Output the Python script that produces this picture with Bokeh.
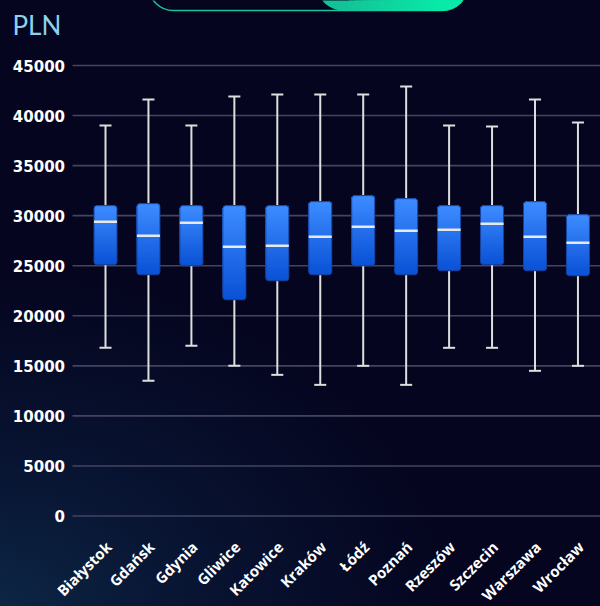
import math
from bokeh.plotting import figure
from bokeh.models import Range1d, GlobalInlineStyleSheet
from bokeh.core.properties import value
from bokeh.embed import file_html
from bokeh.resources import INLINE

# ---------------- data ----------------
cities = ["Białystok", "Gdańsk", "Gdynia", "Gliwice", "Katowice", "Kraków",
          "Łódź", "Poznań", "Rzeszów", "Szczecin", "Warszawa", "Wrocław"]
whisker_low = [16800, 13500, 17000, 15000, 14100, 13100, 15000, 13100, 16800, 16800, 14500, 15000]
q1 = [25100, 24100, 25000, 21600, 23500, 24100, 25000, 24100, 24500, 25100, 24500, 24000]
median = [29400, 28000, 29300, 26900, 27000, 27900, 28900, 28500, 28600, 29200, 27900, 27300]
q3 = [31000, 31200, 31000, 31000, 31000, 31400, 32000, 31700, 31000, 31000, 31400, 30100]
whisker_high = [39000, 41600, 39000, 41900, 42100, 42100, 42100, 42900, 39000, 38900, 41600, 39300]
y_ticks = [0, 5000, 10000, 15000, 20000, 25000, 30000, 35000, 40000, 45000]
y_tick_labels = [str(t) for t in y_ticks]
unit_label = "PLN"

# ---------------- layout ----------------
W, H = 600, 606
GRID_LEFT = 72
X0_PX, STEP_PX = 105.0, 42.95          # pixel centre of first category, spacing
Y0_PX, PX_PER_UNIT = 515.5, 450.5 / 45000.0

def px_x(px):
    return (px - X0_PX) / STEP_PX

def px_y(py):
    return (Y0_PX - py) / PX_PER_UNIT

css = ("html{min-height:100%;background:#05051f radial-gradient(ellipse 75% 55% at 0% 100%, "
       "#0c2644 0%, #081533 40%, #05051f 100%);}"
       "body{margin:0;background:transparent;overflow:hidden;}")

p = figure(width=W, height=H, x_range=Range1d(px_x(0), px_x(W)),
           y_range=Range1d(px_y(H), px_y(0)),
           output_backend="svg", toolbar_location=None,
           x_axis_location=None, y_axis_location=None,
           min_border_left=0, min_border_right=0,
           min_border_top=0, min_border_bottom=0,
           background_fill_alpha=0, border_fill_alpha=0, outline_line_color=None)
p.stylesheets = [GlobalInlineStyleSheet(css=css)]
p.xgrid.grid_line_color = None
p.ygrid.grid_line_color = None

n = len(cities)
xs = list(range(n))
BOX_HALF = 0.268
CAP_HALF = 0.14

# horizontal grid lines + value labels
p.segment(x0=[px_x(GRID_LEFT)] * len(y_ticks), x1=[px_x(W)] * len(y_ticks),
          y0=y_ticks, y1=y_ticks, line_color="#44445f", line_width=1.6)
p.text(x=[px_x(64.5)] * len(y_ticks), y=y_ticks, text=y_tick_labels,
       text_align="right", text_baseline="middle", text_color="#ffffff",
       text_font=value("DejaVu Sans"), text_font_style="bold", text_font_size="15px")

# whiskers
p.segment(x0=xs, x1=xs, y0=q3, y1=whisker_high, line_color="#dedede", line_width=2)
p.segment(x0=xs, x1=xs, y0=q1, y1=whisker_low, line_color="#dedede", line_width=2)
p.segment(x0=[x - CAP_HALF for x in xs], x1=[x + CAP_HALF for x in xs],
          y0=whisker_high, y1=whisker_high, line_color="#dedede", line_width=2)
p.segment(x0=[x - CAP_HALF for x in xs], x1=[x + CAP_HALF for x in xs],
          y0=whisker_low, y1=whisker_low, line_color="#dedede", line_width=2)

# gradient boxes built from overlapping strips
def lerp_color(c0, c1, t):
    a = [int(c0[i:i + 2], 16) for i in (1, 3, 5)]
    b = [int(c1[i:i + 2], 16) for i in (1, 3, 5)]
    return "#" + "".join("%02x" % round(a[i] + (b[i] - a[i]) * t) for i in range(3))

DARK, LIGHT = "#0a52d6", "#3d8bff"
N = 28
for k in range(N):
    t = k / (N - 1)
    bottoms = [lo + (hi - lo) * k / N for lo, hi in zip(q1, q3)]
    p.quad(left=[x - BOX_HALF for x in xs], right=[x + BOX_HALF for x in xs],
           bottom=bottoms, top=q3, fill_color=lerp_color(DARK, LIGHT, t),
           line_color=None, border_radius=(3 if k == 0 else (3, 3, 0, 0)))
p.quad(left=[x - BOX_HALF for x in xs], right=[x + BOX_HALF for x in xs],
       bottom=q1, top=q3, fill_color=None, line_color="#16409a", line_width=1,
       border_radius=3)

# medians
p.segment(x0=[x - BOX_HALF for x in xs], x1=[x + BOX_HALF for x in xs],
          y0=median, y1=median, line_color="#e8e8e8", line_width=2.5)

# category labels
p.text(x=xs, y=[0] * n, text=cities, angle=math.pi / 4,
       text_align="right", text_baseline="middle", x_offset=3, y_offset=28,
       text_color="#ffffff", text_font=value("Open Sans"),
       text_font_style="bold", text_font_size="15px")

# unit label
p.text(x=[px_x(12)], y=[px_y(24.5)], text=[unit_label], text_color="#8fd0ee",
       text_font=value("Lato"), text_font_size="26px", text_baseline="middle",
       text_align="left")

# decorative toggle pill at the top
p.quad(left=[px_x(148)], right=[px_x(467)], bottom=[px_y(10)], top=[px_y(-60)],
       fill_color=None, line_color="#17c49a", line_width=1.5, border_radius=25)
PN = 16
pill_l, pill_r = 317, 467
p.quad(left=[px_x(pill_l)], right=[px_x(pill_r)], bottom=[px_y(10)], top=[px_y(-60)],
       fill_color="#13c397", line_color=None, border_radius=25)
for k in range(1, PN):
    lx = pill_l + 25 + (pill_r - pill_l - 50) * k / PN
    p.quad(left=[px_x(lx)], right=[px_x(pill_r)], bottom=[px_y(10)], top=[px_y(-60)],
           fill_color=lerp_color("#13c397", "#07eaa8", k / (PN - 1)),
           line_color=None, border_radius=(0, 25, 25, 0))

open("out.html", "w").write(file_html(p, INLINE))
